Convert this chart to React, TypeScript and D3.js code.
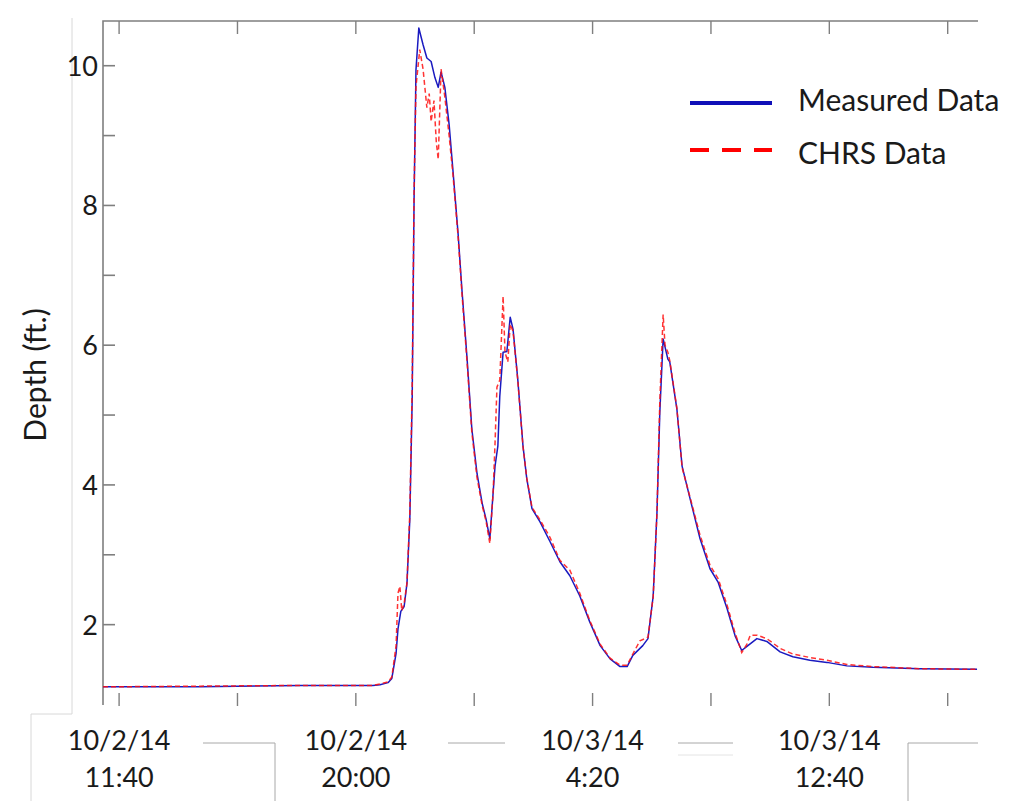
import React, { useEffect, useRef } from 'react';
import * as d3 from 'd3';

// minutes after 10/2/14 11:40 and depth (ft.)
const measuredMinutes = [-34, 171, 382, 536, 551, 568, 576, 585, 589, 595, 602, 608, 614, 619, 623, 627, 633, 642, 650, 659, 667, 674, 680, 688, 697, 705, 716, 724, 735, 745, 756, 767, 775, 783, 794, 800, 804, 811, 819, 826, 832, 842, 853, 861, 872, 889, 910, 931, 952, 973, 994, 1016, 1037, 1058, 1073, 1085, 1106, 1117, 1128, 1136, 1142, 1149, 1159, 1163, 1178, 1189, 1206, 1227, 1248, 1265, 1284, 1301, 1315, 1326, 1347, 1368, 1396, 1423, 1459, 1495, 1537, 1592, 1691, 1812];
const measuredDepth = [1.11, 1.11, 1.13, 1.13, 1.14, 1.17, 1.23, 1.59, 1.94, 2.19, 2.26, 2.59, 3.51, 5.23, 8.09, 9.94, 10.54, 10.3, 10.11, 10.06, 9.83, 9.69, 9.91, 9.69, 9.16, 8.51, 7.59, 6.8, 5.8, 4.8, 4.16, 3.73, 3.51, 3.23, 4.27, 4.56, 5.27, 5.9, 5.91, 6.4, 6.23, 5.51, 4.56, 4.09, 3.66, 3.47, 3.19, 2.9, 2.7, 2.41, 2.04, 1.7, 1.51, 1.4, 1.4, 1.56, 1.7, 1.8, 2.41, 3.61, 5.04, 6.09, 5.8, 5.76, 5.09, 4.27, 3.8, 3.23, 2.8, 2.61, 2.23, 1.84, 1.63, 1.69, 1.8, 1.76, 1.61, 1.54, 1.49, 1.46, 1.41, 1.39, 1.37, 1.36];

const chrsMinutes = [-34, 171, 382, 536, 551, 568, 576, 585, 589, 593, 597, 602, 608, 614, 619, 623, 627, 635, 642, 650, 655, 659, 665, 670, 674, 680, 688, 697, 705, 716, 724, 735, 745, 756, 767, 775, 783, 790, 794, 798, 804, 811, 815, 821, 826, 832, 842, 853, 861, 872, 889, 910, 931, 952, 973, 994, 1016, 1037, 1058, 1073, 1085, 1100, 1117, 1128, 1136, 1142, 1149, 1153, 1159, 1163, 1178, 1189, 1206, 1227, 1248, 1265, 1284, 1301, 1315, 1326, 1333, 1347, 1368, 1396, 1423, 1459, 1495, 1537, 1592, 1691, 1812];
const chrsDepth = [1.11, 1.12, 1.13, 1.13, 1.15, 1.18, 1.25, 1.7, 2.45, 2.55, 2.2, 2.3, 2.6, 3.6, 5.4, 8.2, 9.7, 10.23, 9.95, 9.4, 9.6, 9.2, 9.5, 8.9, 8.66, 9.95, 9.55, 9.0, 8.45, 7.55, 6.75, 5.75, 4.75, 4.1, 3.7, 3.48, 3.16, 3.9, 4.6, 5.4, 5.5, 6.7, 5.9, 5.76, 6.3, 6.2, 5.5, 4.55, 4.1, 3.68, 3.5, 3.25, 2.92, 2.78, 2.45, 2.06, 1.72, 1.52, 1.42, 1.42, 1.58, 1.77, 1.82, 2.4, 3.6, 5.2, 6.44, 6.0, 5.9, 5.78, 5.1, 4.25, 3.82, 3.28, 2.85, 2.66, 2.28, 1.88, 1.6, 1.72, 1.85, 1.85, 1.8, 1.66, 1.58, 1.53, 1.49, 1.43, 1.4, 1.37, 1.36];

const xTickMinutes = [0, 250, 500, 750, 1000, 1250, 1500, 1750];
const xTickDates = ['10/2/14', '', '10/2/14', '', '10/3/14', '', '10/3/14', ''];
const xTickTimes = ['11:40', '', '20:00', '', '4:20', '', '12:40', ''];
const yTicks = [2, 3, 4, 5, 6, 7, 8, 9, 10];
const yLabels = [2, 4, 6, 8, 10];
const seriesNames = ['Measured Data', 'CHRS Data'];

const start = new Date(2014, 9, 2, 11, 40);
const toDate = (m: number) => new Date(start.getTime() + m * 60000);

const App = () => {
  const ref = useRef<SVGSVGElement>(null);
  const width = 1014, height = 801;
  const margin = { left: 103, right: 978, top: 21, bottom: 705 };
  const font = 'Lato, "Open Sans", sans-serif';

  useEffect(() => {
    const svg = d3.select(ref.current);
    svg.selectAll('*').remove();

    const x = d3.scaleTime()
      .domain([toDate(-34), toDate(1814)])
      .range([margin.left, margin.right]);
    const y = d3.scaleLinear()
      .domain([0.85, 10.64])
      .range([margin.bottom, margin.top]);

    // stray grey frame lines from the source picture
    const stray = svg.append('g').attr('fill', 'none').attr('stroke', '#a8a8a8').attr('stroke-width', 1);
    stray.append('path').attr('d', 'M72,18V714H31V801').attr('stroke', '#d8d8d8');
    stray.append('path').attr('d', 'M203,743H275V801');
    stray.append('path').attr('d', 'M448,743H505');
    stray.append('path').attr('d', 'M678,743H733');
    stray.append('path').attr('d', 'M678,755H733').attr('stroke', '#e4e4e4');
    stray.append('path').attr('d', 'M978,743H908V801');

    const axisColor = '#7f7f7f';
    // frame: left axis and top border
    svg.append('path')
      .attr('d', `M${margin.left},${margin.bottom}V${margin.top}H${margin.right}`)
      .attr('fill', 'none').attr('stroke', axisColor).attr('stroke-width', 1.6);

    // y ticks
    svg.append('g').selectAll('line').data(yTicks).enter().append('line')
      .attr('x1', margin.left).attr('x2', margin.left + 12)
      .attr('y1', d => y(d)).attr('y2', d => y(d))
      .attr('stroke', axisColor).attr('stroke-width', 1.6);
    svg.append('g').selectAll('text').data(yLabels).enter().append('text')
      .attr('x', 98).attr('y', d => y(d) + 10)
      .attr('text-anchor', 'end')
      .attr('font-family', font).attr('font-size', 27).attr('fill', '#1a1a1a')
      .text(d => d);

    // x ticks at bottom and top
    xTickMinutes.forEach(m => {
      const px = x(toDate(m));
      svg.append('line').attr('x1', px).attr('x2', px).attr('y1', 693).attr('y2', 706)
        .attr('stroke', axisColor).attr('stroke-width', 1.4);
      svg.append('line').attr('x1', px).attr('x2', px).attr('y1', margin.top).attr('y2', margin.top + 13)
        .attr('stroke', axisColor).attr('stroke-width', 1.4);
    });
    xTickMinutes.forEach((m, i) => {
      if (!xTickDates[i]) return;
      const px = x(toDate(m));
      svg.append('text').attr('x', px).attr('y', 750).attr('text-anchor', 'middle')
        .attr('font-family', font).attr('font-size', 27).attr('fill', '#1a1a1a')
        .text(xTickDates[i]);
      svg.append('text').attr('x', px).attr('y', 787).attr('text-anchor', 'middle')
        .attr('font-family', font).attr('font-size', 27).attr('fill', '#1a1a1a')
        .text(xTickTimes[i]);
    });

    svg.append('text')
      .attr('transform', 'translate(46,375) rotate(-90)')
      .attr('text-anchor', 'middle')
      .attr('font-family', font).attr('font-size', 30).attr('fill', '#1a1a1a')
      .text('Depth (ft.)');

    const line = d3.line<[number, number]>()
      .x(d => x(toDate(d[0])))
      .y(d => y(d[1]));

    const measured = measuredMinutes.map((m, i) => [m, measuredDepth[i]] as [number, number]);
    const chrs = chrsMinutes.map((m, i) => [m, chrsDepth[i]] as [number, number]);

    svg.append('path').datum(measured).attr('d', line)
      .attr('fill', 'none').attr('stroke', '#1a1ac0').attr('stroke-width', 1.5)
      .attr('stroke-linejoin', 'round');
    svg.append('path').datum(chrs).attr('d', line)
      .attr('fill', 'none').attr('stroke', '#ff1010').attr('stroke-width', 1.5)
      .attr('stroke-dasharray', '5,3').attr('stroke-opacity', 0.85);

    // legend
    svg.append('line').attr('x1', 690).attr('x2', 772).attr('y1', 103).attr('y2', 103)
      .attr('stroke', '#1010b8').attr('stroke-width', 4);
    svg.append('line').attr('x1', 690).attr('x2', 772).attr('y1', 150).attr('y2', 150)
      .attr('stroke', '#ff0000').attr('stroke-width', 4).attr('stroke-dasharray', '19,13');
    svg.append('text').attr('x', 798).attr('y', 111)
      .attr('font-family', font).attr('font-size', 30).attr('fill', '#1a1a1a')
      .text(seriesNames[0]);
    svg.append('text').attr('x', 798).attr('y', 164)
      .attr('font-family', font).attr('font-size', 30).attr('fill', '#1a1a1a')
      .text(seriesNames[1]);
  }, []);

  return (
    <svg ref={ref} width={width} height={height}
      style={{ position: 'absolute', left: 0, top: 0, background: '#fff' }} />
  );
};

export default App;
